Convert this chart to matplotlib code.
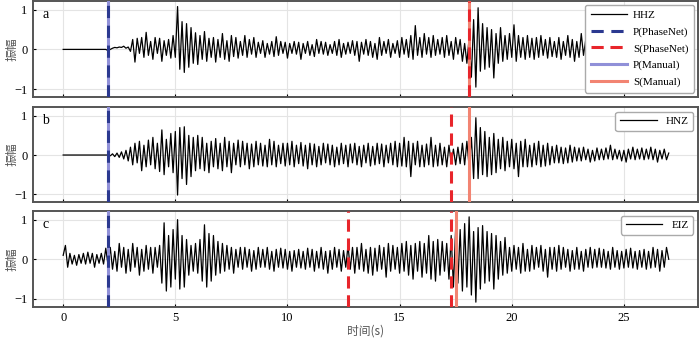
import numpy as np
import matplotlib.pyplot as plt

plt.rcParams['font.family'] = ['Liberation Serif', 'Noto Sans CJK SC']
plt.rcParams['axes.unicode_minus'] = True

dt = 0.1  # sampling step of the traces below (s)

# HHZ, values every 0.1 s from 0 to 27 s
hhz = [0]*20 + [
    -0.03, 0.0, 0.03, 0.05, 0.04, 0.06, 0.05, 0.08, 0.03, 0.06,
    -0.05, 0.25, -0.32, 0.28, -0.1, 0.3, -0.2, 0.43, -0.15, 0.2,
    -0.25, 0.3, -0.1, 0.28, -0.3, 0.22, -0.15, 0.25, -0.22, 0.35,
    -0.2, 1.08, -0.5, 0.7, -0.58, 0.65, -0.45, 0.55, -0.35, 0.42,
    -0.38, 0.35, -0.25, 0.45, -0.3, 0.28, -0.2, 0.3, -0.32, 0.25,
    -0.2, 0.4, -0.25, 0.22, -0.3, 0.35, -0.18, 0.3, -0.22, 0.2,
    -0.15, 0.35, -0.2, 0.25, -0.12, 0.3, -0.2, 0.18, -0.1, 0.22,
    -0.2, 0.15, -0.12, 0.2, -0.18, 0.32, -0.15, 0.2, -0.1, 0.18,
    -0.22, 0.15, -0.1, 0.2, -0.12, 0.18, -0.25, 0.15, -0.1, 0.2,
    -0.15, 0.12, -0.18, 0.25, -0.1, 0.2, -0.12, 0.18, -0.15, 0.12,
    -0.1, 0.2, -0.15, 0.25, -0.2, 0.15, -0.12, 0.18, -0.1, 0.22,
    -0.15, 0.2, -0.3, 0.18, -0.12, 0.25, -0.15, 0.2, -0.2, 0.15,
    -0.25, 0.3, -0.15, 0.2, -0.1, 0.25, -0.2, 0.15, -0.1, 0.22,
    -0.2, 0.3, -0.12, 0.25, -0.2, 0.35, -0.25, 0.6, -0.15, 0.3,
    -0.2, 0.4, -0.12, 0.3, -0.2, 0.35, -0.15, 0.25, -0.12, 0.3,
    -0.2, 0.35, -0.15, 0.2, -0.25, 0.3, -0.12, 0.25, -0.3, 0.15,
    -0.35, 0.3, -0.7, 0.75, -0.95, 1.05, -0.55, 0.65, -0.5, 0.55,
    -0.45, 0.5, -0.72, 0.4, -0.35, 0.55, -0.3, 0.35, -0.25, 0.4,
    -0.2, 0.62, -0.3, 0.35, -0.2, 0.3, -0.25, 0.35, -0.2, 0.28,
    -0.25, 0.3, -0.2, 0.35, -0.15, 0.25, -0.22, 0.3, -0.18, 0.2,
    -0.2, 0.3, -0.25, 0.2, -0.15, 0.35, -0.2, 0.25, -0.3, 0.2,
    -0.2, 0.4, -0.15, 0.25, -0.2, 0.3, -0.25, 0.2, -0.15, 0.3,
    -0.2, 0.3, -0.25, 0.38, -0.2, 0.25, -0.15, 0.3, -0.2, 0.25,
    -0.25, 0.3, -0.15, 0.25, -0.2, 0.35, -0.3, 0.2, -0.15, 0.3,
    -0.2, 0.25, -0.3, 0.2, -0.15, 0.3, -0.2, 0.25, -0.35, 0.15,
    0.0]

hnz = [0]*20 + [
    0.0, -0.02, 0.03, -0.04, 0.05, -0.06, 0.08, -0.1, 0.12, -0.15,
    0.2, -0.25, 0.3, -0.2, 0.35, -0.4, 0.25, -0.3, 0.38, -0.25,
    0.45, -0.35, 0.3, -0.42, 0.64, -0.5, 0.4, -0.3, 0.55, -0.45,
    0.6, -1.02, 0.7, -0.6, 0.72, -0.75, 0.5, -0.55, 0.45, -0.4,
    0.5, -0.35, 0.45, -0.4, 0.3, -0.45, 0.35, -0.3, 0.42, -0.35,
    0.3, -0.4, 0.45, -0.3, 0.35, -0.45, 0.3, -0.25, 0.38, -0.3,
    0.35, -0.25, 0.3, -0.35, 0.28, -0.3, 0.35, -0.25, 0.3, -0.28,
    0.25, -0.3, 0.4, -0.25, 0.35, -0.3, 0.25, -0.22, 0.3, -0.28,
    0.3, -0.25, 0.35, -0.3, 0.25, -0.22, 0.32, -0.28, 0.25, -0.35,
    0.3, -0.25, 0.28, -0.3, 0.22, -0.25, 0.3, -0.2, 0.28, -0.25,
    0.25, -0.3, 0.2, -0.25, 0.3, -0.22, 0.25, -0.3, 0.28, -0.2,
    0.3, -0.25, 0.22, -0.3, 0.25, -0.2, 0.3, -0.28, 0.22, -0.25,
    0.3, -0.22, 0.28, -0.3, 0.25, -0.2, 0.3, -0.25, 0.35, -0.3,
    0.3, -0.28, 0.45, -0.3, 0.35, -0.55, 0.3, -0.25, 0.35, -0.3,
    0.25, -0.3, 0.28, -0.25, 0.45, -0.3, 0.25, -0.28, 0.3, -0.25,
    0.2, -0.3, 0.25, -0.2, 0.15, -0.25, 0.2, -0.22, 0.3, -0.25,
    0.35, -0.3, 0.45, -0.6, 0.95, -0.6, 0.7, -0.5, 0.6, -0.55,
    0.45, -0.5, 0.55, -0.45, 0.4, -0.35, 0.45, -0.4, 0.35, -0.3,
    0.4, -0.35, 0.3, -0.55, 0.35, -0.3, 0.4, -0.3, 0.25, -0.3,
    0.3, -0.25, 0.35, -0.3, 0.25, -0.28, 0.3, -0.25, 0.22, -0.2,
    0.25, -0.2, 0.2, -0.22, 0.18, -0.2, 0.25, -0.18, 0.2, -0.15,
    0.18, -0.15, 0.2, -0.12, 0.15, -0.18, 0.12, -0.15, 0.18, -0.12,
    0.15, -0.12, 0.18, -0.1, 0.25, -0.12, 0.15, -0.1, 0.12, -0.15,
    0.12, -0.18, 0.15, -0.1, 0.2, -0.12, 0.15, -0.1, 0.18, -0.12,
    0.15, -0.1, 0.2, -0.12, 0.15, -0.18, 0.12, -0.1, 0.15, -0.12,
    0.05]

eiz = [
    0.1, 0.35, -0.2, 0.15, -0.12, 0.1, -0.15, 0.12, -0.1, 0.15,
    -0.12, 0.18, -0.1, 0.15, -0.2, 0.12, -0.1, 0.15, -0.12, 0.28,
    -0.15, 0.3, -0.25, 0.2, -0.3, 0.4, -0.2, 0.3, -0.35, 0.25,
    -0.3, 0.4, -0.2, 0.3, -0.4, 0.25, -0.3, 0.35, -0.25, 0.3,
    -0.35, 0.3, -0.2, 0.35, -0.6, 0.92, -0.8, 0.6, -0.7, 0.75,
    -0.5, 1.0, -0.75, 0.6, -0.7, 0.5, -0.4, 0.35, -0.3, 0.4,
    -0.35, 0.5, -0.55, 0.87, -0.7, 0.65, -0.55, 0.6, -0.4, 0.45,
    -0.35, 0.4, -0.3, 0.35, -0.25, 0.3, -0.35, 0.25, -0.2, 0.3,
    -0.25, 0.3, -0.2, 0.25, -0.3, 0.22, -0.25, 0.3, -0.2, 0.25,
    -0.2, 0.3, -0.25, 0.2, -0.3, 0.25, -0.2, 0.28, -0.22, 0.25,
    -0.25, 0.2, -0.3, 0.22, -0.2, 0.25, -0.22, 0.2, -0.25, 0.28,
    -0.2, 0.25, -0.3, 0.2, -0.22, 0.3, -0.25, 0.2, -0.35, 0.22,
    -0.25, 0.3, -0.2, 0.25, -0.3, 0.22, -0.2, 0.35, -0.25, 0.3,
    -0.35, 0.3, -0.25, 0.4, -0.3, 0.25, -0.35, 0.3, -0.4, 0.28,
    -0.3, 0.35, -0.25, 0.3, -0.45, 0.4, -0.3, 0.35, -0.25, 0.3,
    -0.35, 0.4, -0.3, 0.45, -0.4, 0.35, -0.5, 0.4, -0.3, 0.45,
    -0.45, 0.4, -0.35, 0.6, -0.5, 0.45, -0.55, 0.5, -0.4, 0.45,
    -0.3, 0.4, -0.5, 0.6, -0.7, 0.8, -0.6, 0.75, -0.8, 0.9,
    -0.7, 1.07, -0.9, 0.7, -1.08, 0.8, -0.75, 0.85, -0.6, 0.7,
    -0.55, 0.65, -0.75, 0.6, -0.5, 0.45, -0.4, 0.55, -0.35, 0.3,
    -0.3, 0.35, -0.25, 0.3, -0.35, 0.4, -0.3, 0.25, -0.3, 0.35,
    -0.25, 0.3, -0.2, 0.35, -0.3, 0.25, -0.45, 0.3, -0.25, 0.3,
    -0.3, 0.35, -0.25, 0.3, -0.2, 0.25, -0.3, 0.22, -0.25, 0.3,
    -0.25, 0.2, -0.3, 0.25, -0.2, 0.3, -0.22, 0.25, -0.2, 0.28,
    -0.2, 0.25, -0.22, 0.2, -0.25, 0.3, -0.2, 0.22, -0.25, 0.2,
    -0.22, 0.25, -0.2, 0.28, -0.22, 0.2, -0.25, 0.22, -0.2, 0.25,
    -0.25, 0.2, -0.22, 0.3, -0.2, 0.25, -0.3, 0.22, -0.2, 0.3,
    0.0]

channels = ['HHZ', 'HNZ', 'EIZ']
panel_tags = ['a', 'b', 'c']
traces = [hhz, hnz, eiz]

# picks (s)
p_phasenet = [[2.0], [2.0], [2.0]]
s_phasenet = [[18.1], [17.3], [12.7, 17.3]]
p_manual = [[2.0], [2.0], [2.0]]
s_manual = [[18.1], [18.1], [17.5]]

c_pnet = '#2b3990'
c_snet = '#e8252b'
c_pman = '#9090d8'
c_sman = '#f28472'

cjk = ['Noto Sans CJK SC', 'DejaVu Sans']

fig = plt.figure(figsize=(7, 3.38), dpi=100)
boxes = [(0.047, 0.713, 0.95, 0.284),
         (0.047, 0.402, 0.95, 0.281),
         (0.047, 0.092, 0.95, 0.284)]

for i in range(3):
    ax = fig.add_axes(boxes[i])
    y = np.array(traces[i])
    t = np.arange(len(y)) * dt

    ax.plot(t, y, c='k', lw=0.9, label=channels[i], zorder=3)
    for x in p_manual[i]:
        ax.axvline(x, c=c_pman, lw=2.2, zorder=4, label='P(Manual)')
    for x in s_manual[i]:
        ax.axvline(x, c=c_sman, lw=2.2, zorder=4, label='S(Manual)')
    for x in p_phasenet[i]:
        ax.axvline(x, c=c_pnet, lw=2.2, ls=(0, (4, 2.5)), zorder=5, label='P(PhaseNet)')
    for x in s_phasenet[i]:
        ax.axvline(x, c=c_snet, lw=2.2, ls=(0, (4, 2.2)), zorder=5, label='S(PhaseNet)')

    ax.set_xlim(-1.35, 28.3)
    ax.set_ylim(-1.2, 1.22)
    ax.set_xticks([0, 5, 10, 15, 20, 25])
    ax.set_yticks([-1, 0, 1])
    ax.grid(c='#e4e4e4', lw=0.8)
    ax.tick_params(direction='in', length=2.5, labelsize=9, colors='k', pad=4)
    if i < 2:
        ax.tick_params(labelbottom=False)
    for s in ax.spines.values():
        s.set_color('#555555')
        s.set_linewidth(1.4)
    ax.set_ylabel('振幅', fontsize=8.5, color='#555555', family=cjk)
    ax.yaxis.set_label_coords(-0.022, 0.5)
    ax.text(0.014, 0.93, panel_tags[i], transform=ax.transAxes, fontsize=10,
            va='top', ha='left')

    h, l = ax.get_legend_handles_labels()
    if i == 0:
        order = ['HHZ', 'P(PhaseNet)', 'S(PhaseNet)', 'P(Manual)', 'S(Manual)']
        hs = [h[l.index(k)] for k in order]
        leg = ax.legend(hs, order, loc='upper right', fontsize=8, handlelength=3.3,
                        borderaxespad=0.35, labelspacing=0.6, handletextpad=0.5,
                        borderpad=0.5, framealpha=1, edgecolor='#aaaaaa', fancybox=True)
    else:
        leg = ax.legend([h[0]], [channels[i]], loc='upper right', fontsize=8,
                        handlelength=3.3, borderaxespad=0.45, framealpha=1,
                        edgecolor='#aaaaaa', fancybox=True)
    leg.set_zorder(10)
    if i == 2:
        ax.set_xlabel('时间(s)', fontsize=8.5, color='#555555', family=cjk, va='top')
        ax.xaxis.set_label_coords(0.5, -0.185)

plt.savefig('out.png', dpi=100)
plt.close()
